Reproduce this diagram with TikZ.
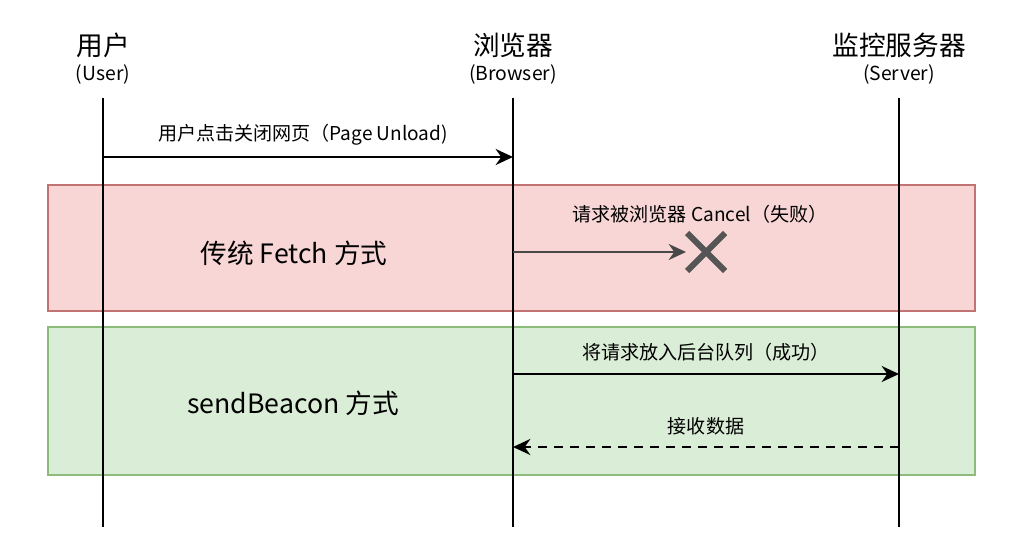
\documentclass[tikz,border=0pt]{standalone}
\usepackage{fontspec}
\setmainfont{Noto Sans CJK SC}
\usetikzlibrary{arrows.meta,calc}

\definecolor{failfill}{HTML}{F8D6D5}
\definecolor{faildraw}{HTML}{C27472}
\definecolor{okfill}{HTML}{DAEDD6}
\definecolor{okdraw}{HTML}{8DBB7C}
\definecolor{crossgray}{HTML}{555555}

\begin{document}
\begin{tikzpicture}[x=0.75pt, y=-0.75pt, >={Stealth[length=13pt,width=12pt]},
    actor/.style={font=\fontsize{20}{22}\selectfont},
    actorsub/.style={font=\fontsize{14.5}{16}\selectfont},
    lifeline/.style={line width=1.1pt, black},
    msg/.style={line width=1.7pt, black},
    msglabel/.style={font=\fontsize{14.3}{16}\selectfont},
    boxtitle/.style={font=\fontsize{20}{22}\selectfont}]

    % 画布范围
    \useasboundingbox (0,0) rectangle (1024,559);

    % 背景色块
    \draw[fill=failfill, draw=faildraw, line width=0.8pt] (48,185) rectangle (975,311);
    \draw[fill=okfill, draw=okdraw, line width=0.8pt] (48,327) rectangle (975,475);

    % 参与者
    \node[actor] (user) at (103,45) {用户};
    \node[actorsub] (usersub) at (103,74) {(User)};
    \node[actor] (browser) at (513,45) {浏览器};
    \node[actorsub] (browsersub) at (513,74) {(Browser)};
    \node[actor] (server) at (899,45) {监控服务器};
    \node[actorsub] (serversub) at (899,74) {(Server)};

    % 生命线
    \coordinate (user top) at (103,98);
    \coordinate (user bot) at (103,527);
    \coordinate (browser top) at (513,98);
    \coordinate (browser bot) at (513,527);
    \coordinate (server top) at (899,98);
    \coordinate (server bot) at (899,527);
    \draw[lifeline] (user top) -- (user bot);
    \draw[lifeline] (browser top) -- (browser bot);
    \draw[lifeline] (server top) -- (server bot);

    % 关闭网页
    \coordinate (u1) at (103,157);
    \coordinate (b1) at (513,157);
    \draw[msg,->] (u1) -- (b1);
    \node[msglabel] (unload) at (303,135) {用户点击关闭网页（Page Unload)};

    % 传统 Fetch
    \node[boxtitle] (fetch) at (294,253) {传统 Fetch 方式};
    \coordinate (b2) at (513,252);
    \coordinate (x0) at (706,252);
    \draw[line width=1.6pt, crossgray!85!black, ->] (b2) -- (686,252);
    \draw[line width=4.5pt, crossgray] ($(x0)+(-19,-19)$) -- ($(x0)+(19,19)$)
        ($(x0)+(-19,19)$) -- ($(x0)+(19,-19)$);
    \node[msglabel] (cancel) at (700,214) {请求被浏览器 Cancel（失败）};

    % sendBeacon
    \node[boxtitle] (beacon) at (293,403) {sendBeacon 方式};
    \coordinate (b3) at (513,374);
    \coordinate (s3) at (899,374);
    \draw[msg,->] (b3) -- (s3);
    \node[msglabel] (queue) at (706,352) {将请求放入后台队列（成功）};
    \coordinate (s4) at (899,447);
    \coordinate (b4) at (513,447);
    \draw[msg,dashed,dash pattern=on 7pt off 5pt,->] (s4) -- (b4);
    \node[msglabel] (recv) at (706,426) {接收数据};
\end{tikzpicture}
\end{document}
